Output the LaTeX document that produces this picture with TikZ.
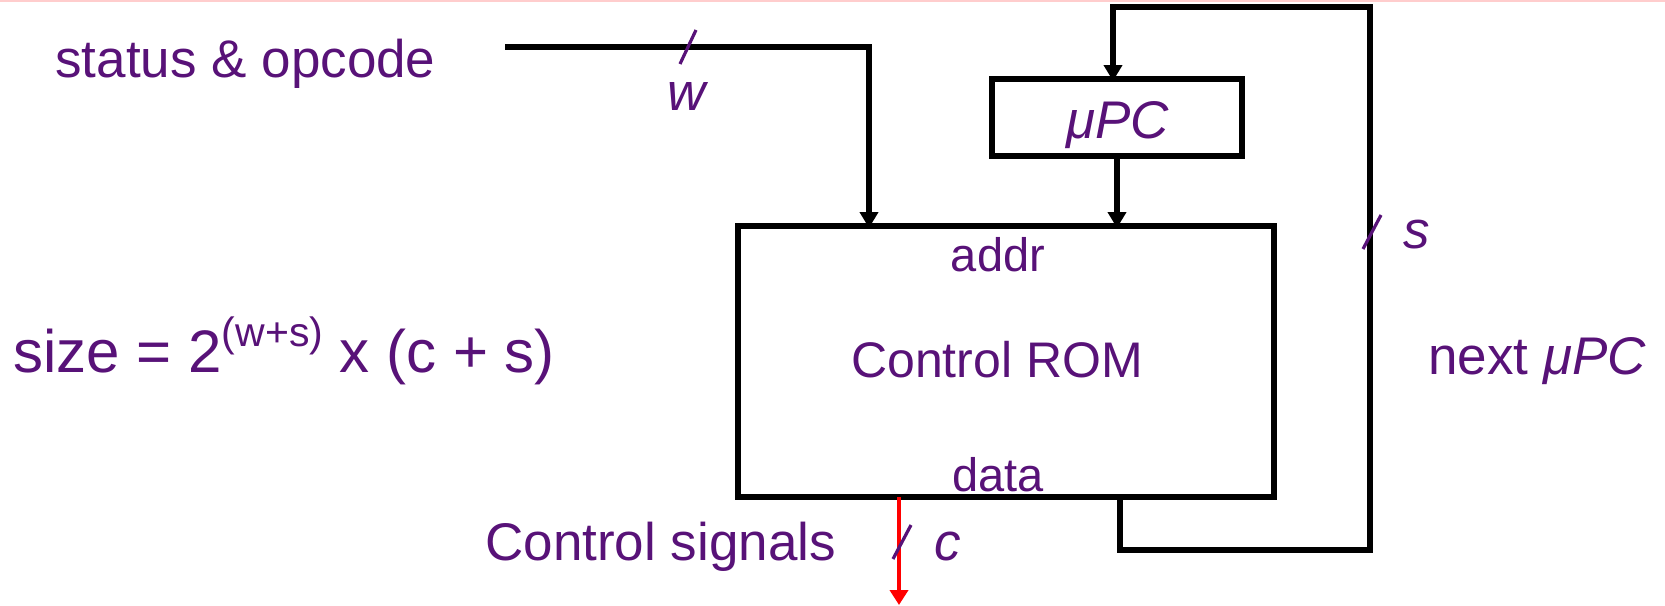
\documentclass[tikz,border=0pt]{standalone}
\usepackage{fontspec}
\setmainfont{Liberation Sans}
\usetikzlibrary{arrows.meta}
\definecolor{txtpurple}{RGB}{88,18,120}
\definecolor{toppink}{RGB}{255,205,205}
\begin{document}
\begin{tikzpicture}[x=0.5pt,y=-0.5pt,
  wire/.style={line width=2.8pt,black},
  arr/.style={wire,-{Triangle[length=8pt,width=9pt]}},
  blk/.style={draw=black,line width=3.3pt,rectangle,inner sep=0pt,outer sep=0pt},
  lbl/.style={text=txtpurple,inner sep=0pt,font=\fontsize{26.5}{30}\selectfont},
  small/.style={text=txtpurple,inner sep=0pt,font=\fontsize{23.5}{27}\selectfont},
  slashmark/.style={draw=txtpurple,line width=1.6pt}]
\useasboundingbox (0,0) rectangle (1665,605);
\draw[toppink,line width=0.8pt] (0,1) -- (1665,1);

% blocks
\node[blk,minimum width=268pt,minimum height=135.5pt] (rom) at (1006,361.5) {};
\node[blk,minimum width=125pt,minimum height=38.5pt] (upc) at (1117,117.5) {};

% texts
\node[lbl,anchor=base west] (status) at (55,77) {status \& opcode};
\node[lbl,anchor=base] (w) at (688,110) {\textit{w}};
\node[lbl,anchor=base] (upct) at (1118,138) {\textit{μPC}};
\node[small,anchor=base] (addr) at (998,271) {addr};
\node[lbl,anchor=base] (s) at (1417,248) {\textit{s}};
\node[lbl,anchor=base west] (size) at (13,372) {\fontsize{30}{34}\selectfont size = 2\raisebox{0.42em}{\fontsize{20.5}{22}\selectfont (w+s)} x (c + s)};
\node[small,anchor=base] (romt) at (997,377) {\fontsize{25}{28}\selectfont Control ROM};
\node[lbl,anchor=base west] (next) at (1428,374) {next \textit{μPC}};
\node[small,anchor=base] (data) at (998,491) {data};
\node[lbl,anchor=base west] (csig) at (485,560) {Control signals};
\node[lbl,anchor=base] (c) at (948,560) {\textit{c}};

% connectors
\coordinate (sin) at (505,47);
\coordinate (romin) at (869,228);
\draw[arr] (sin) -| (romin);
\draw[arr] (upc.south) -- ([yshift=-1pt]upc.south |- rom.north);
\coordinate (fbout) at (1120,497);
\coordinate (fb1) at (1120,550);
\coordinate (fb2) at (1370,550);
\coordinate (fb3) at (1370,7);
\coordinate (fb4) at (1113,7);
\coordinate (upcin) at (1113,81);
\draw[arr] (fbout) -- (fb1) -- (fb2) -- (fb3) -- (fb4) -- (upcin);
\coordinate (cout) at (899,497);
\coordinate (cend) at (899,605);
\draw[red,line width=2.2pt,-{Triangle[length=7.5pt,width=9pt]}] (cout) -- (cend);

% bus-width slashes
\draw[slashmark] (680,64) -- (696,30);
\draw[slashmark] (1363,249) -- (1381,215);
\draw[slashmark] (893,559) -- (911,525);
\end{tikzpicture}
\end{document}
